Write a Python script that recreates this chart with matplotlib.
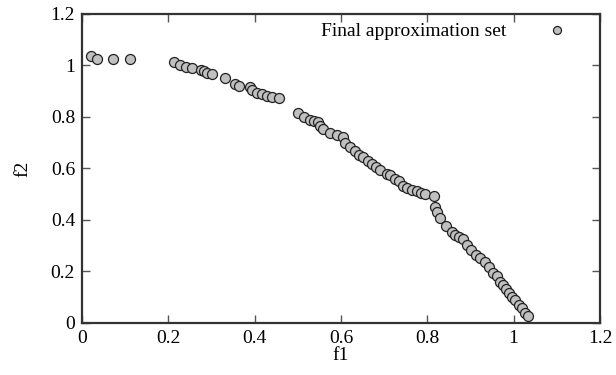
import matplotlib
matplotlib.use("Agg")
import matplotlib.pyplot as plt

# final approximation set (f1, f2)
f1 = [0.021, 0.035, 0.072, 0.111, 0.213, 0.227, 0.241, 0.255, 0.276, 0.283,
      0.290, 0.301, 0.331, 0.354, 0.364, 0.389, 0.394, 0.405, 0.417, 0.428,
      0.440, 0.456, 0.500, 0.514, 0.528, 0.537, 0.547, 0.551, 0.558, 0.574,
      0.591, 0.605, 0.609, 0.621, 0.632, 0.642, 0.651, 0.662, 0.672, 0.681,
      0.690, 0.707, 0.713, 0.725, 0.734, 0.744, 0.753, 0.764, 0.776, 0.785,
      0.795, 0.815, 0.818, 0.822, 0.829, 0.843, 0.857, 0.864, 0.873, 0.883,
      0.892, 0.901, 0.913, 0.922, 0.934, 0.943, 0.952, 0.961, 0.968, 0.975,
      0.982, 0.989, 0.996, 1.003, 1.012, 1.019, 1.026, 1.033]
f2 = [1.037, 1.025, 1.025, 1.025, 1.013, 1.002, 0.994, 0.990, 0.983, 0.979,
      0.971, 0.967, 0.951, 0.928, 0.920, 0.917, 0.905, 0.893, 0.889, 0.882,
      0.878, 0.874, 0.816, 0.800, 0.788, 0.784, 0.781, 0.765, 0.753, 0.738,
      0.730, 0.722, 0.699, 0.683, 0.668, 0.652, 0.645, 0.629, 0.617, 0.606,
      0.594, 0.579, 0.575, 0.559, 0.551, 0.532, 0.524, 0.517, 0.513, 0.505,
      0.501, 0.493, 0.450, 0.431, 0.408, 0.377, 0.353, 0.342, 0.334, 0.326,
      0.303, 0.283, 0.264, 0.252, 0.237, 0.217, 0.194, 0.183, 0.159, 0.148,
      0.132, 0.117, 0.101, 0.089, 0.070, 0.058, 0.039, 0.027]

xticks = [0, 0.2, 0.4, 0.6, 0.8, 1, 1.2]
yticks = [0, 0.2, 0.4, 0.6, 0.8, 1, 1.2]

plt.rcParams["font.family"] = ["Liberation Serif", "DejaVu Serif"]
plt.rcParams["font.size"] = 14

fig = plt.figure(figsize=(6.16, 3.75), dpi=100)
ax = fig.add_axes([0.1331, 0.1387, 0.8409, 0.824])

ax.plot(f1, f2, "o", markersize=7.2, markerfacecolor="#c0c0c0",
        markeredgecolor="#222222", markeredgewidth=0.9,
        label="Final approximation set")

ax.set_xlim(0, 1.2)
ax.set_ylim(0, 1.2)
ax.set_xticks(xticks)
ax.set_yticks(yticks)
ax.set_xticklabels([f"{t:g}" for t in xticks])
ax.set_yticklabels([f"{t:g}" for t in yticks])
ax.tick_params(direction="in", top=True, right=True, length=6,
               width=1, color="#555555", pad=5)
for s in ax.spines.values():
    s.set_linewidth(1.6)
    s.set_color("#333333")

ax.set_xlabel("f1", labelpad=0)
ax.set_ylabel("f2", labelpad=14)

ax.legend(loc="upper right", bbox_to_anchor=(0.988, 1.028), frameon=False,
          markerfirst=False, handletextpad=1.6, markerscale=0.8)

plt.savefig("out.png", dpi=100)
